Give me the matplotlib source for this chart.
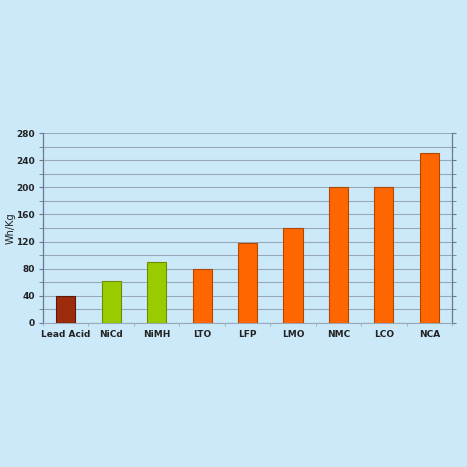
import matplotlib
matplotlib.use("Agg")
import matplotlib.pyplot as plt
import numpy as np

categories = ["Lead Acid", "NiCd", "NiMH", "LTO", "LFP", "LMO", "NMC", "LCO", "NCA"]
values = [40, 62, 90, 80, 118, 140, 200, 200, 250]
colors = ["#9C2C0C", "#99CC00", "#99CC00", "#FF6600", "#FF6600", "#FF6600", "#FF6600", "#FF6600", "#FF6600"]
edges = ["#5A1A06", "#6E8C00", "#6E8C00", "#B04800", "#B04800", "#B04800", "#B04800", "#B04800", "#B04800"]
y_ticks = [0, 40, 80, 120, 160, 200, 240, 280]

plt.rcParams['font.family'] = ['DejaVu Sans']
bg = "#CCE9FA"
fig = plt.figure(figsize=(4.67, 4.67), dpi=100, facecolor=bg)
ax = fig.add_axes([0.092, 0.3084, 0.876, 0.4068])
ax.set_facecolor(bg)

x = np.arange(len(categories))
ax.bar(x, values, width=0.42, color=colors, edgecolor=edges, linewidth=0.8, zorder=3)

grid_c = '#97A9B8'
ax.set_xlim(-0.5, len(categories) - 0.5)
ax.set_ylim(0, 280)
ax.set_yticks(y_ticks)
ax.set_yticklabels([str(v) for v in y_ticks], fontsize=6.5, fontweight='bold', color='#222222')
ax.set_yticks(np.arange(0, 281, 20), minor=True)
ax.yaxis.grid(True, which='both', color=grid_c, linewidth=0.8, zorder=0)
ax.set_axisbelow(True)
ax.set_xticks(x)
ax.set_xticklabels(categories, fontsize=6.5, fontweight='bold', color='#222222')
ax.tick_params(axis='x', length=0, pad=5)
ax.set_xticks(np.arange(-0.5, len(categories), 1), minor=True)
ax.tick_params(axis='x', which='minor', length=2, color=grid_c)
ax.tick_params(axis='y', which='both', length=3, color='#6A7A88', pad=3)
ax.tick_params(axis='y', which='both', right=True)

for s in ['left', 'right']:
    ax.spines[s].set_color('#6A7A88')
    ax.spines[s].set_linewidth(0.9)
ax.spines['top'].set_visible(False)
ax.spines['bottom'].set_color(grid_c)

fig.text(11 / 467, 1 - 228 / 467, "Wh/Kg", rotation=90, fontsize=7,
         ha='center', va='center', color='#222222')

fig.savefig("out.png", dpi=100, facecolor=bg)
